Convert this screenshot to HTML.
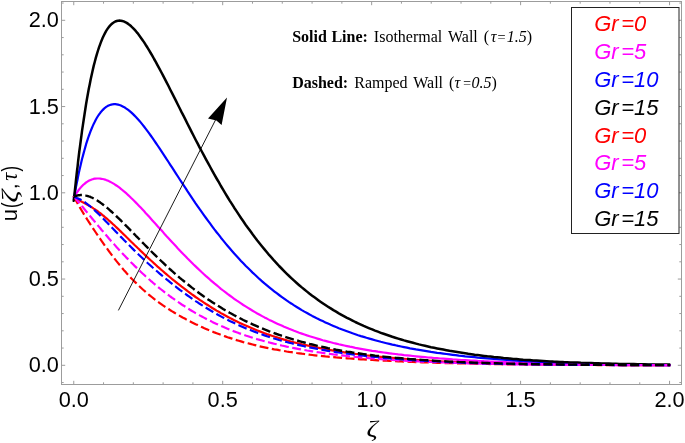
<!DOCTYPE html>
<html><head><meta charset="utf-8"><title>plot</title>
<style>
html,body{margin:0;padding:0;background:#fff;}
body{width:685px;height:443px;overflow:hidden;}
svg{display:block;will-change:transform;opacity:0.999;}
text{font-family:"Liberation Sans",sans-serif;}
.tk text{font-size:21.7px;fill:#000;}
.lg text{font-size:22px;font-style:italic;}
.an text{font-family:"Liberation Serif",serif;font-size:16px;fill:#000;}
</style></head><body>
<svg width="685" height="443" viewBox="0 0 685 443">
<rect width="685" height="443" fill="#fff"/>
<g id="curves" stroke-linecap="butt" stroke-linejoin="round">
<path d="M73.8,196.6 L73.8,196.7 L74.0,196.8 L74.2,197.0 L74.5,197.2 L74.8,197.5 L75.2,197.7 L75.6,198.0 L76.0,198.3 L76.5,198.6 L77.0,198.9 L77.6,199.3 L78.1,199.6 L78.7,200.0 L79.3,200.3 L80.0,200.7 L80.7,201.1 L81.4,201.5 L82.1,201.9 L82.9,202.3 L83.7,202.7 L84.5,203.1 L85.3,203.6 L86.1,204.0 L87.0,204.5 L87.9,205.0 L88.8,205.5 L89.8,206.1 L90.7,206.7 L91.7,207.3 L92.7,207.9 L93.7,208.6 L94.8,209.3 L95.8,210.0 L96.9,210.7 L98.0,211.5 L99.1,212.4 L100.3,213.2 L101.4,214.1 L102.6,215.1 L103.8,216.0 L105.0,217.1 L106.2,218.1 L107.5,219.2 L108.7,220.3 L110.0,221.4 L111.3,222.6 L112.6,223.8 L114.0,225.0 L115.3,226.3 L116.7,227.6 L118.1,228.9 L119.5,230.2 L120.9,231.6 L122.3,233.0 L123.7,234.4 L125.2,235.8 L126.7,237.3 L128.2,238.7 L129.7,240.2 L131.2,241.7 L132.8,243.2 L134.3,244.7 L135.9,246.2 L137.5,247.8 L139.1,249.3 L140.7,250.9 L142.3,252.4 L144.0,254.0 L145.6,255.6 L147.3,257.1 L149.0,258.7 L150.7,260.3 L152.4,261.8 L154.1,263.4 L155.9,265.0 L157.6,266.6 L159.4,268.1 L161.2,269.7 L163.0,271.3 L164.8,272.9 L166.6,274.4 L168.5,276.0 L170.3,277.5 L172.2,279.1 L174.1,280.6 L176.0,282.1 L177.9,283.7 L179.8,285.2 L181.7,286.7 L183.7,288.2 L185.7,289.7 L187.6,291.2 L189.6,292.6 L191.6,294.1 L193.6,295.5 L195.6,297.0 L197.7,298.4 L199.7,299.8 L201.8,301.2 L203.9,302.6 L206.0,304.0 L208.1,305.3 L210.2,306.6 L212.3,308.0 L214.4,309.3 L216.6,310.6 L218.8,311.8 L220.9,313.1 L223.1,314.3 L225.3,315.5 L227.5,316.7 L229.7,317.9 L232.0,319.1 L234.2,320.2 L236.5,321.3 L238.8,322.4 L241.0,323.5 L243.3,324.6 L245.6,325.6 L248.0,326.6 L250.3,327.6 L252.6,328.6 L255.0,329.6 L257.3,330.5 L259.7,331.4 L262.1,332.3 L264.5,333.2 L266.9,334.1 L269.3,334.9 L271.8,335.7 L274.2,336.5 L276.7,337.3 L279.1,338.1 L281.6,338.9 L284.1,339.6 L286.6,340.3 L289.1,341.0 L291.6,341.7 L294.1,342.4 L296.7,343.0 L299.2,343.6 L301.8,344.3 L304.4,344.9 L307.0,345.4 L309.6,346.0 L312.2,346.6 L314.8,347.1 L317.4,347.7 L320.1,348.2 L322.7,348.7 L325.4,349.2 L328.0,349.7 L330.7,350.1 L333.4,350.6 L336.1,351.0 L338.8,351.5 L341.5,351.9 L344.3,352.3 L347.0,352.7 L349.8,353.1 L352.5,353.5 L355.3,353.9 L358.1,354.2 L360.9,354.6 L363.7,354.9 L366.5,355.3 L369.4,355.6 L372.2,355.9 L375.0,356.2 L377.9,356.5 L380.8,356.8 L383.6,357.1 L386.5,357.4 L389.4,357.7 L392.3,357.9 L395.3,358.2 L398.2,358.4 L401.1,358.7 L404.1,358.9 L407.0,359.1 L410.0,359.4 L413.0,359.6 L416.0,359.8 L419.0,360.0 L422.0,360.2 L425.0,360.4 L428.0,360.6 L431.0,360.8 L434.1,361.0 L437.1,361.1 L440.2,361.3 L443.3,361.5 L446.4,361.6 L449.5,361.8 L452.6,361.9 L455.7,362.1 L458.8,362.2 L461.9,362.3 L465.1,362.4 L468.2,362.6 L471.4,362.7 L474.6,362.8 L477.7,362.9 L480.9,363.0 L484.1,363.1 L487.3,363.2 L490.5,363.3 L493.8,363.4 L497.0,363.5 L500.2,363.6 L503.5,363.7 L506.8,363.7 L510.0,363.8 L513.3,363.9 L516.6,364.0 L519.9,364.0 L523.2,364.1 L526.5,364.2 L529.9,364.2 L533.2,364.3 L536.6,364.3 L539.9,364.4 L543.3,364.4 L546.6,364.5 L550.0,364.5 L553.4,364.6 L556.8,364.6 L560.2,364.6 L563.6,364.7 L567.1,364.7 L570.5,364.7 L574.0,364.8 L577.4,364.8 L580.9,364.8 L584.3,364.9 L587.8,364.9 L591.3,364.9 L594.8,364.9 L598.3,364.9 L601.8,365.0 L605.4,365.0 L608.9,365.0 L612.4,365.0 L616.0,365.0 L619.5,365.1 L623.1,365.1 L626.7,365.1 L630.3,365.1 L633.9,365.1 L637.5,365.1 L641.1,365.1 L644.7,365.1 L648.3,365.2 L652.0,365.2 L655.6,365.2 L659.3,365.2 L662.9,365.2 L666.6,365.2 L670.3,365.2" fill="none" stroke="#f00" stroke-width="2.2"/>
<path d="M73.8,197.8 L73.8,197.6 L74.0,197.3 L74.2,196.9 L74.5,196.4 L74.8,195.9 L75.2,195.3 L75.6,194.6 L76.0,193.9 L76.5,193.1 L77.0,192.4 L77.6,191.6 L78.1,190.8 L78.7,190.0 L79.3,189.2 L80.0,188.4 L80.7,187.5 L81.4,186.8 L82.1,186.0 L82.9,185.2 L83.7,184.5 L84.5,183.8 L85.3,183.1 L86.1,182.5 L87.0,181.9 L87.9,181.3 L88.8,180.8 L89.8,180.3 L90.7,179.9 L91.7,179.5 L92.7,179.2 L93.7,178.9 L94.8,178.7 L95.8,178.6 L96.9,178.5 L98.0,178.5 L99.1,178.5 L100.3,178.6 L101.4,178.8 L102.6,179.0 L103.8,179.3 L105.0,179.6 L106.2,180.1 L107.5,180.5 L108.7,181.1 L110.0,181.7 L111.3,182.4 L112.6,183.1 L114.0,183.9 L115.3,184.8 L116.7,185.7 L118.1,186.7 L119.5,187.7 L120.9,188.8 L122.3,190.0 L123.7,191.2 L125.2,192.4 L126.7,193.7 L128.2,195.1 L129.7,196.5 L131.2,198.0 L132.8,199.5 L134.3,201.0 L135.9,202.6 L137.5,204.2 L139.1,205.9 L140.7,207.6 L142.3,209.3 L144.0,211.1 L145.6,212.9 L147.3,214.7 L149.0,216.6 L150.7,218.5 L152.4,220.4 L154.1,222.3 L155.9,224.2 L157.6,226.2 L159.4,228.2 L161.2,230.1 L163.0,232.1 L164.8,234.2 L166.6,236.2 L168.5,238.2 L170.3,240.2 L172.2,242.3 L174.1,244.3 L176.0,246.3 L177.9,248.4 L179.8,250.4 L181.7,252.4 L183.7,254.5 L185.7,256.5 L187.6,258.5 L189.6,260.5 L191.6,262.5 L193.6,264.5 L195.6,266.4 L197.7,268.4 L199.7,270.3 L201.8,272.3 L203.9,274.2 L206.0,276.1 L208.1,277.9 L210.2,279.8 L212.3,281.6 L214.4,283.4 L216.6,285.2 L218.8,287.0 L220.9,288.8 L223.1,290.5 L225.3,292.2 L227.5,293.9 L229.7,295.5 L232.0,297.2 L234.2,298.8 L236.5,300.4 L238.8,301.9 L241.0,303.4 L243.3,305.0 L245.6,306.4 L248.0,307.9 L250.3,309.3 L252.6,310.7 L255.0,312.1 L257.3,313.5 L259.7,314.8 L262.1,316.1 L264.5,317.4 L266.9,318.6 L269.3,319.9 L271.8,321.1 L274.2,322.2 L276.7,323.4 L279.1,324.5 L281.6,325.6 L284.1,326.7 L286.6,327.7 L289.1,328.8 L291.6,329.8 L294.1,330.8 L296.7,331.7 L299.2,332.7 L301.8,333.6 L304.4,334.5 L307.0,335.4 L309.6,336.2 L312.2,337.0 L314.8,337.8 L317.4,338.6 L320.1,339.4 L322.7,340.2 L325.4,340.9 L328.0,341.6 L330.7,342.3 L333.4,343.0 L336.1,343.6 L338.8,344.3 L341.5,344.9 L344.3,345.5 L347.0,346.1 L349.8,346.7 L352.5,347.2 L355.3,347.8 L358.1,348.3 L360.9,348.8 L363.7,349.3 L366.5,349.8 L369.4,350.3 L372.2,350.8 L375.0,351.2 L377.9,351.7 L380.8,352.1 L383.6,352.5 L386.5,352.9 L389.4,353.3 L392.3,353.7 L395.3,354.0 L398.2,354.4 L401.1,354.7 L404.1,355.1 L407.0,355.4 L410.0,355.7 L413.0,356.0 L416.0,356.3 L419.0,356.6 L422.0,356.9 L425.0,357.2 L428.0,357.5 L431.0,357.7 L434.1,358.0 L437.1,358.2 L440.2,358.5 L443.3,358.7 L446.4,358.9 L449.5,359.1 L452.6,359.4 L455.7,359.6 L458.8,359.8 L461.9,360.0 L465.1,360.1 L468.2,360.3 L471.4,360.5 L474.6,360.7 L477.7,360.9 L480.9,361.0 L484.1,361.2 L487.3,361.3 L490.5,361.5 L493.8,361.6 L497.0,361.8 L500.2,361.9 L503.5,362.0 L506.8,362.2 L510.0,362.3 L513.3,362.4 L516.6,362.5 L519.9,362.6 L523.2,362.8 L526.5,362.9 L529.9,363.0 L533.2,363.1 L536.6,363.2 L539.9,363.3 L543.3,363.3 L546.6,363.4 L550.0,363.5 L553.4,363.6 L556.8,363.7 L560.2,363.8 L563.6,363.8 L567.1,363.9 L570.5,364.0 L574.0,364.1 L577.4,364.1 L580.9,364.2 L584.3,364.2 L587.8,364.3 L591.3,364.4 L594.8,364.4 L598.3,364.5 L601.8,364.5 L605.4,364.6 L608.9,364.6 L612.4,364.7 L616.0,364.7 L619.5,364.8 L623.1,364.8 L626.7,364.8 L630.3,364.9 L633.9,364.9 L637.5,365.0 L641.1,365.0 L644.7,365.0 L648.3,365.1 L652.0,365.1 L655.6,365.1 L659.3,365.1 L662.9,365.2 L666.6,365.2 L670.3,365.2" fill="none" stroke="#f0f" stroke-width="2.2"/>
<path d="M73.8,199.6 L73.8,199.1 L74.0,198.1 L74.2,196.9 L74.5,195.3 L74.8,193.5 L75.2,191.5 L75.6,189.3 L76.0,186.9 L76.5,184.5 L77.0,181.9 L77.6,179.2 L78.1,176.4 L78.7,173.6 L79.3,170.7 L80.0,167.8 L80.7,164.8 L81.4,161.8 L82.1,158.8 L82.9,155.9 L83.7,152.9 L84.5,150.0 L85.3,147.1 L86.1,144.2 L87.0,141.4 L87.9,138.7 L88.8,136.0 L89.8,133.4 L90.7,130.9 L91.7,128.5 L92.7,126.1 L93.7,123.9 L94.8,121.8 L95.8,119.7 L96.9,117.8 L98.0,116.0 L99.1,114.4 L100.3,112.8 L101.4,111.4 L102.6,110.1 L103.8,108.9 L105.0,107.8 L106.2,106.9 L107.5,106.1 L108.7,105.5 L110.0,105.0 L111.3,104.6 L112.6,104.3 L114.0,104.2 L115.3,104.2 L116.7,104.4 L118.1,104.6 L119.5,105.0 L120.9,105.5 L122.3,106.2 L123.7,106.9 L125.2,107.8 L126.7,108.8 L128.2,109.9 L129.7,111.1 L131.2,112.4 L132.8,113.9 L134.3,115.4 L135.9,117.0 L137.5,118.7 L139.1,120.5 L140.7,122.4 L142.3,124.4 L144.0,126.5 L145.6,128.6 L147.3,130.9 L149.0,133.2 L150.7,135.5 L152.4,137.9 L154.1,140.4 L155.9,143.0 L157.6,145.5 L159.4,148.2 L161.2,150.9 L163.0,153.6 L164.8,156.4 L166.6,159.2 L168.5,162.0 L170.3,164.8 L172.2,167.7 L174.1,170.6 L176.0,173.6 L177.9,176.5 L179.8,179.5 L181.7,182.4 L183.7,185.4 L185.7,188.4 L187.6,191.4 L189.6,194.4 L191.6,197.4 L193.6,200.3 L195.6,203.3 L197.7,206.3 L199.7,209.2 L201.8,212.1 L203.9,215.1 L206.0,218.0 L208.1,220.8 L210.2,223.7 L212.3,226.6 L214.4,229.4 L216.6,232.2 L218.8,234.9 L220.9,237.7 L223.1,240.4 L225.3,243.1 L227.5,245.7 L229.7,248.3 L232.0,250.9 L234.2,253.5 L236.5,256.0 L238.8,258.5 L241.0,260.9 L243.3,263.3 L245.6,265.7 L248.0,268.0 L250.3,270.3 L252.6,272.6 L255.0,274.8 L257.3,277.0 L259.7,279.2 L262.1,281.3 L264.5,283.4 L266.9,285.4 L269.3,287.4 L271.8,289.4 L274.2,291.3 L276.7,293.2 L279.1,295.0 L281.6,296.8 L284.1,298.6 L286.6,300.4 L289.1,302.1 L291.6,303.7 L294.1,305.4 L296.7,307.0 L299.2,308.5 L301.8,310.1 L304.4,311.6 L307.0,313.0 L309.6,314.5 L312.2,315.9 L314.8,317.2 L317.4,318.6 L320.1,319.9 L322.7,321.1 L325.4,322.4 L328.0,323.6 L330.7,324.8 L333.4,325.9 L336.1,327.1 L338.8,328.2 L341.5,329.2 L344.3,330.3 L347.0,331.3 L349.8,332.3 L352.5,333.3 L355.3,334.2 L358.1,335.2 L360.9,336.1 L363.7,336.9 L366.5,337.8 L369.4,338.6 L372.2,339.4 L375.0,340.2 L377.9,341.0 L380.8,341.8 L383.6,342.5 L386.5,343.2 L389.4,343.9 L392.3,344.6 L395.3,345.2 L398.2,345.9 L401.1,346.5 L404.1,347.1 L407.0,347.7 L410.0,348.3 L413.0,348.8 L416.0,349.4 L419.0,349.9 L422.0,350.4 L425.0,350.9 L428.0,351.4 L431.0,351.9 L434.1,352.3 L437.1,352.8 L440.2,353.2 L443.3,353.6 L446.4,354.0 L449.5,354.4 L452.6,354.8 L455.7,355.2 L458.8,355.6 L461.9,355.9 L465.1,356.3 L468.2,356.6 L471.4,356.9 L474.6,357.2 L477.7,357.6 L480.9,357.8 L484.1,358.1 L487.3,358.4 L490.5,358.7 L493.8,359.0 L497.0,359.2 L500.2,359.5 L503.5,359.7 L506.8,359.9 L510.0,360.1 L513.3,360.4 L516.6,360.6 L519.9,360.8 L523.2,361.0 L526.5,361.2 L529.9,361.4 L533.2,361.5 L536.6,361.7 L539.9,361.9 L543.3,362.0 L546.6,362.2 L550.0,362.3 L553.4,362.5 L556.8,362.6 L560.2,362.8 L563.6,362.9 L567.1,363.0 L570.5,363.1 L574.0,363.3 L577.4,363.4 L580.9,363.5 L584.3,363.6 L587.8,363.7 L591.3,363.8 L594.8,363.9 L598.3,364.0 L601.8,364.0 L605.4,364.1 L608.9,364.2 L612.4,364.3 L616.0,364.3 L619.5,364.4 L623.1,364.5 L626.7,364.5 L630.3,364.6 L633.9,364.7 L637.5,364.7 L641.1,364.8 L644.7,364.8 L648.3,364.9 L652.0,364.9 L655.6,365.0 L659.3,365.0 L662.9,365.0 L666.6,365.1 L670.3,365.1" fill="none" stroke="#00f" stroke-width="2.2"/>
<path d="M73.8,201.4 L73.8,200.6 L74.0,198.9 L74.2,196.7 L74.5,194.1 L74.8,191.0 L75.2,187.5 L75.6,183.8 L76.0,179.8 L76.5,175.5 L77.0,171.0 L77.6,166.3 L78.1,161.5 L78.7,156.5 L79.3,151.5 L80.0,146.3 L80.7,141.0 L81.4,135.8 L82.1,130.4 L82.9,125.1 L83.7,119.8 L84.5,114.5 L85.3,109.2 L86.1,104.0 L87.0,98.8 L87.9,93.8 L88.8,88.8 L89.8,84.0 L90.7,79.3 L91.7,74.7 L92.7,70.2 L93.7,65.9 L94.8,61.8 L95.8,57.9 L96.9,54.1 L98.0,50.5 L99.1,47.1 L100.3,43.9 L101.4,40.9 L102.6,38.1 L103.8,35.5 L105.0,33.1 L106.2,30.9 L107.5,28.9 L108.7,27.2 L110.0,25.6 L111.3,24.3 L112.6,23.2 L114.0,22.3 L115.3,21.5 L116.7,21.0 L118.1,20.7 L119.5,20.6 L120.9,20.7 L122.3,21.0 L123.7,21.4 L125.2,22.1 L126.7,22.9 L128.2,23.9 L129.7,25.0 L131.2,26.3 L132.8,27.8 L134.3,29.4 L135.9,31.2 L137.5,33.1 L139.1,35.2 L140.7,37.4 L142.3,39.7 L144.0,42.1 L145.6,44.7 L147.3,47.3 L149.0,50.1 L150.7,53.0 L152.4,55.9 L154.1,59.0 L155.9,62.1 L157.6,65.3 L159.4,68.6 L161.2,72.0 L163.0,75.4 L164.8,78.9 L166.6,82.4 L168.5,86.0 L170.3,89.7 L172.2,93.4 L174.1,97.1 L176.0,100.9 L177.9,104.7 L179.8,108.5 L181.7,112.4 L183.7,116.2 L185.7,120.1 L187.6,124.0 L189.6,127.9 L191.6,131.9 L193.6,135.8 L195.6,139.7 L197.7,143.7 L199.7,147.6 L201.8,151.5 L203.9,155.4 L206.0,159.3 L208.1,163.2 L210.2,167.0 L212.3,170.9 L214.4,174.7 L216.6,178.5 L218.8,182.2 L220.9,186.0 L223.1,189.7 L225.3,193.3 L227.5,197.0 L229.7,200.6 L232.0,204.1 L234.2,207.7 L236.5,211.1 L238.8,214.6 L241.0,218.0 L243.3,221.3 L245.6,224.7 L248.0,227.9 L250.3,231.1 L252.6,234.3 L255.0,237.4 L257.3,240.5 L259.7,243.5 L262.1,246.5 L264.5,249.4 L266.9,252.3 L269.3,255.2 L271.8,257.9 L274.2,260.7 L276.7,263.3 L279.1,266.0 L281.6,268.5 L284.1,271.1 L286.6,273.6 L289.1,276.0 L291.6,278.4 L294.1,280.7 L296.7,283.0 L299.2,285.2 L301.8,287.4 L304.4,289.5 L307.0,291.6 L309.6,293.7 L312.2,295.7 L314.8,297.6 L317.4,299.5 L320.1,301.4 L322.7,303.2 L325.4,305.0 L328.0,306.7 L330.7,308.4 L333.4,310.1 L336.1,311.7 L338.8,313.3 L341.5,314.8 L344.3,316.3 L347.0,317.8 L349.8,319.2 L352.5,320.6 L355.3,322.0 L358.1,323.3 L360.9,324.6 L363.7,325.9 L366.5,327.1 L369.4,328.3 L372.2,329.4 L375.0,330.6 L377.9,331.7 L380.8,332.8 L383.6,333.8 L386.5,334.8 L389.4,335.8 L392.3,336.8 L395.3,337.7 L398.2,338.6 L401.1,339.5 L404.1,340.4 L407.0,341.2 L410.0,342.0 L413.0,342.8 L416.0,343.6 L419.0,344.4 L422.0,345.1 L425.0,345.8 L428.0,346.5 L431.0,347.2 L434.1,347.8 L437.1,348.4 L440.2,349.0 L443.3,349.6 L446.4,350.2 L449.5,350.8 L452.6,351.3 L455.7,351.8 L458.8,352.3 L461.9,352.8 L465.1,353.3 L468.2,353.8 L471.4,354.2 L474.6,354.7 L477.7,355.1 L480.9,355.5 L484.1,355.9 L487.3,356.3 L490.5,356.6 L493.8,357.0 L497.0,357.3 L500.2,357.6 L503.5,358.0 L506.8,358.3 L510.0,358.6 L513.3,358.9 L516.6,359.1 L519.9,359.4 L523.2,359.7 L526.5,359.9 L529.9,360.1 L533.2,360.4 L536.6,360.6 L539.9,360.8 L543.3,361.0 L546.6,361.2 L550.0,361.4 L553.4,361.6 L556.8,361.7 L560.2,361.9 L563.6,362.1 L567.1,362.2 L570.5,362.4 L574.0,362.5 L577.4,362.6 L580.9,362.8 L584.3,362.9 L587.8,363.0 L591.3,363.1 L594.8,363.2 L598.3,363.3 L601.8,363.4 L605.4,363.5 L608.9,363.6 L612.4,363.7 L616.0,363.8 L619.5,363.9 L623.1,363.9 L626.7,364.0 L630.3,364.1 L633.9,364.1 L637.5,364.2 L641.1,364.3 L644.7,364.3 L648.3,364.4 L652.0,364.4 L655.6,364.5 L659.3,364.5 L662.9,364.6 L666.6,364.6 L670.3,364.6" fill="none" stroke="#000" stroke-width="2.5"/>
<path d="M73.8,196.1 L73.8,196.3 L74.0,196.6 L74.2,197.1 L74.5,197.6 L74.8,198.3 L75.2,199.0 L75.6,199.7 L76.0,200.6 L76.5,201.5 L77.0,202.4 L77.6,203.4 L78.1,204.4 L78.7,205.5 L79.3,206.6 L80.0,207.7 L80.7,208.8 L81.4,210.0 L82.1,211.2 L82.9,212.5 L83.7,213.8 L84.5,215.1 L85.3,216.4 L86.1,217.7 L87.0,219.1 L87.9,220.5 L88.8,221.9 L89.8,223.4 L90.7,224.8 L91.7,226.3 L92.7,227.9 L93.7,229.4 L94.8,231.0 L95.8,232.5 L96.9,234.1 L98.0,235.7 L99.1,237.4 L100.3,239.0 L101.4,240.7 L102.6,242.4 L103.8,244.1 L105.0,245.8 L106.2,247.5 L107.5,249.2 L108.7,250.9 L110.0,252.7 L111.3,254.4 L112.6,256.1 L114.0,257.9 L115.3,259.6 L116.7,261.4 L118.1,263.1 L119.5,264.8 L120.9,266.5 L122.3,268.2 L123.7,269.9 L125.2,271.6 L126.7,273.3 L128.2,274.9 L129.7,276.5 L131.2,278.2 L132.8,279.8 L134.3,281.4 L135.9,282.9 L137.5,284.5 L139.1,286.0 L140.7,287.5 L142.3,289.0 L144.0,290.5 L145.6,291.9 L147.3,293.4 L149.0,294.8 L150.7,296.2 L152.4,297.5 L154.1,298.9 L155.9,300.2 L157.6,301.5 L159.4,302.8 L161.2,304.1 L163.0,305.4 L164.8,306.6 L166.6,307.8 L168.5,309.0 L170.3,310.2 L172.2,311.4 L174.1,312.5 L176.0,313.7 L177.9,314.8 L179.8,315.9 L181.7,317.0 L183.7,318.1 L185.7,319.1 L187.6,320.2 L189.6,321.2 L191.6,322.2 L193.6,323.2 L195.6,324.2 L197.7,325.1 L199.7,326.1 L201.8,327.0 L203.9,328.0 L206.0,328.9 L208.1,329.8 L210.2,330.6 L212.3,331.5 L214.4,332.4 L216.6,333.2 L218.8,334.0 L220.9,334.8 L223.1,335.6 L225.3,336.4 L227.5,337.2 L229.7,337.9 L232.0,338.6 L234.2,339.4 L236.5,340.1 L238.8,340.7 L241.0,341.4 L243.3,342.1 L245.6,342.7 L248.0,343.3 L250.3,343.9 L252.6,344.5 L255.0,345.1 L257.3,345.7 L259.7,346.3 L262.1,346.8 L264.5,347.3 L266.9,347.8 L269.3,348.3 L271.8,348.8 L274.2,349.3 L276.7,349.7 L279.1,350.2 L281.6,350.6 L284.1,351.0 L286.6,351.5 L289.1,351.9 L291.6,352.2 L294.1,352.6 L296.7,353.0 L299.2,353.3 L301.8,353.7 L304.4,354.0 L307.0,354.3 L309.6,354.7 L312.2,355.0 L314.8,355.3 L317.4,355.6 L320.1,355.8 L322.7,356.1 L325.4,356.4 L328.0,356.6 L330.7,356.9 L333.4,357.1 L336.1,357.4 L338.8,357.6 L341.5,357.8 L344.3,358.1 L347.0,358.3 L349.8,358.5 L352.5,358.7 L355.3,358.9 L358.1,359.1 L360.9,359.3 L363.7,359.4 L366.5,359.6 L369.4,359.8 L372.2,360.0 L375.0,360.1 L377.9,360.3 L380.8,360.4 L383.6,360.6 L386.5,360.7 L389.4,360.9 L392.3,361.0 L395.3,361.2 L398.2,361.3 L401.1,361.4 L404.1,361.6 L407.0,361.7 L410.0,361.8 L413.0,361.9 L416.0,362.1 L419.0,362.2 L422.0,362.3 L425.0,362.4 L428.0,362.5 L431.0,362.6 L434.1,362.7 L437.1,362.8 L440.2,362.9 L443.3,363.0 L446.4,363.1 L449.5,363.1 L452.6,363.2 L455.7,363.3 L458.8,363.4 L461.9,363.5 L465.1,363.5 L468.2,363.6 L471.4,363.7 L474.6,363.7 L477.7,363.8 L480.9,363.9 L484.1,363.9 L487.3,364.0 L490.5,364.1 L493.8,364.1 L497.0,364.2 L500.2,364.2 L503.5,364.3 L506.8,364.3 L510.0,364.4 L513.3,364.4 L516.6,364.4 L519.9,364.5 L523.2,364.5 L526.5,364.6 L529.9,364.6 L533.2,364.6 L536.6,364.7 L539.9,364.7 L543.3,364.7 L546.6,364.8 L550.0,364.8 L553.4,364.8 L556.8,364.8 L560.2,364.9 L563.6,364.9 L567.1,364.9 L570.5,364.9 L574.0,364.9 L577.4,365.0 L580.9,365.0 L584.3,365.0 L587.8,365.0 L591.3,365.0 L594.8,365.0 L598.3,365.1 L601.8,365.1 L605.4,365.1 L608.9,365.1 L612.4,365.1 L616.0,365.1 L619.5,365.1 L623.1,365.1 L626.7,365.2 L630.3,365.2 L633.9,365.2 L637.5,365.2 L641.1,365.2 L644.7,365.2 L648.3,365.2 L652.0,365.2 L655.6,365.2 L659.3,365.2 L662.9,365.2 L666.6,365.2 L670.3,365.2" fill="none" stroke="#f00" stroke-width="2.2" stroke-dasharray="8.9 3.5" stroke-dashoffset="0"/>
<path d="M73.8,196.5 L73.8,196.6 L74.0,196.8 L74.2,197.0 L74.5,197.4 L74.8,197.7 L75.2,198.1 L75.6,198.6 L76.0,199.1 L76.5,199.7 L77.0,200.3 L77.6,200.9 L78.1,201.6 L78.7,202.3 L79.3,203.0 L80.0,203.8 L80.7,204.6 L81.4,205.4 L82.1,206.3 L82.9,207.2 L83.7,208.2 L84.5,209.2 L85.3,210.2 L86.1,211.2 L87.0,212.3 L87.9,213.3 L88.8,214.5 L89.8,215.6 L90.7,216.8 L91.7,218.0 L92.7,219.2 L93.7,220.4 L94.8,221.7 L95.8,223.0 L96.9,224.3 L98.0,225.6 L99.1,226.9 L100.3,228.3 L101.4,229.7 L102.6,231.0 L103.8,232.5 L105.0,233.9 L106.2,235.3 L107.5,236.8 L108.7,238.2 L110.0,239.7 L111.3,241.2 L112.6,242.6 L114.0,244.1 L115.3,245.6 L116.7,247.2 L118.1,248.7 L119.5,250.2 L120.9,251.7 L122.3,253.3 L123.7,254.8 L125.2,256.3 L126.7,257.9 L128.2,259.4 L129.7,261.0 L131.2,262.5 L132.8,264.0 L134.3,265.6 L135.9,267.1 L137.5,268.6 L139.1,270.2 L140.7,271.7 L142.3,273.2 L144.0,274.7 L145.6,276.3 L147.3,277.8 L149.0,279.3 L150.7,280.8 L152.4,282.2 L154.1,283.7 L155.9,285.2 L157.6,286.6 L159.4,288.1 L161.2,289.5 L163.0,290.9 L164.8,292.3 L166.6,293.7 L168.5,295.1 L170.3,296.5 L172.2,297.9 L174.1,299.2 L176.0,300.6 L177.9,301.9 L179.8,303.2 L181.7,304.5 L183.7,305.7 L185.7,307.0 L187.6,308.2 L189.6,309.5 L191.6,310.7 L193.6,311.9 L195.6,313.1 L197.7,314.2 L199.7,315.4 L201.8,316.5 L203.9,317.6 L206.0,318.7 L208.1,319.8 L210.2,320.8 L212.3,321.9 L214.4,322.9 L216.6,323.9 L218.8,324.9 L220.9,325.9 L223.1,326.8 L225.3,327.8 L227.5,328.7 L229.7,329.6 L232.0,330.5 L234.2,331.4 L236.5,332.2 L238.8,333.1 L241.0,333.9 L243.3,334.7 L245.6,335.5 L248.0,336.2 L250.3,337.0 L252.6,337.7 L255.0,338.5 L257.3,339.2 L259.7,339.9 L262.1,340.5 L264.5,341.2 L266.9,341.9 L269.3,342.5 L271.8,343.1 L274.2,343.7 L276.7,344.3 L279.1,344.9 L281.6,345.5 L284.1,346.0 L286.6,346.6 L289.1,347.1 L291.6,347.6 L294.1,348.1 L296.7,348.6 L299.2,349.1 L301.8,349.6 L304.4,350.0 L307.0,350.5 L309.6,350.9 L312.2,351.3 L314.8,351.7 L317.4,352.2 L320.1,352.5 L322.7,352.9 L325.4,353.3 L328.0,353.7 L330.7,354.0 L333.4,354.4 L336.1,354.7 L338.8,355.1 L341.5,355.4 L344.3,355.7 L347.0,356.0 L349.8,356.3 L352.5,356.6 L355.3,356.9 L358.1,357.1 L360.9,357.4 L363.7,357.7 L366.5,357.9 L369.4,358.2 L372.2,358.4 L375.0,358.6 L377.9,358.9 L380.8,359.1 L383.6,359.3 L386.5,359.5 L389.4,359.7 L392.3,359.9 L395.3,360.1 L398.2,360.3 L401.1,360.5 L404.1,360.6 L407.0,360.8 L410.0,361.0 L413.0,361.1 L416.0,361.3 L419.0,361.4 L422.0,361.6 L425.0,361.7 L428.0,361.9 L431.0,362.0 L434.1,362.1 L437.1,362.2 L440.2,362.4 L443.3,362.5 L446.4,362.6 L449.5,362.7 L452.6,362.8 L455.7,362.9 L458.8,363.0 L461.9,363.1 L465.1,363.2 L468.2,363.3 L471.4,363.4 L474.6,363.4 L477.7,363.5 L480.9,363.6 L484.1,363.7 L487.3,363.7 L490.5,363.8 L493.8,363.9 L497.0,363.9 L500.2,364.0 L503.5,364.1 L506.8,364.1 L510.0,364.2 L513.3,364.2 L516.6,364.3 L519.9,364.3 L523.2,364.4 L526.5,364.4 L529.9,364.4 L533.2,364.5 L536.6,364.5 L539.9,364.6 L543.3,364.6 L546.6,364.6 L550.0,364.7 L553.4,364.7 L556.8,364.7 L560.2,364.8 L563.6,364.8 L567.1,364.8 L570.5,364.8 L574.0,364.9 L577.4,364.9 L580.9,364.9 L584.3,364.9 L587.8,364.9 L591.3,365.0 L594.8,365.0 L598.3,365.0 L601.8,365.0 L605.4,365.0 L608.9,365.0 L612.4,365.1 L616.0,365.1 L619.5,365.1 L623.1,365.1 L626.7,365.1 L630.3,365.1 L633.9,365.1 L637.5,365.1 L641.1,365.1 L644.7,365.2 L648.3,365.2 L652.0,365.2 L655.6,365.2 L659.3,365.2 L662.9,365.2 L666.6,365.2 L670.3,365.2" fill="none" stroke="#f0f" stroke-width="2.2" stroke-dasharray="8.9 3.5" stroke-dashoffset="0"/>
<path d="M73.8,196.9 L73.8,196.9 L74.0,196.9 L74.2,197.0 L74.5,197.1 L74.8,197.2 L75.2,197.3 L75.6,197.4 L76.0,197.6 L76.5,197.8 L77.0,198.0 L77.6,198.2 L78.1,198.4 L78.7,198.7 L79.3,199.0 L80.0,199.3 L80.7,199.7 L81.4,200.1 L82.1,200.5 L82.9,201.0 L83.7,201.5 L84.5,202.0 L85.3,202.6 L86.1,203.2 L87.0,203.8 L87.9,204.5 L88.8,205.3 L89.8,206.0 L90.7,206.8 L91.7,207.6 L92.7,208.5 L93.7,209.4 L94.8,210.4 L95.8,211.4 L96.9,212.4 L98.0,213.4 L99.1,214.5 L100.3,215.6 L101.4,216.8 L102.6,218.0 L103.8,219.2 L105.0,220.4 L106.2,221.7 L107.5,222.9 L108.7,224.2 L110.0,225.6 L111.3,226.9 L112.6,228.3 L114.0,229.7 L115.3,231.1 L116.7,232.5 L118.1,233.9 L119.5,235.4 L120.9,236.9 L122.3,238.3 L123.7,239.8 L125.2,241.3 L126.7,242.8 L128.2,244.3 L129.7,245.8 L131.2,247.3 L132.8,248.9 L134.3,250.4 L135.9,251.9 L137.5,253.4 L139.1,255.0 L140.7,256.5 L142.3,258.0 L144.0,259.6 L145.6,261.1 L147.3,262.7 L149.0,264.2 L150.7,265.7 L152.4,267.3 L154.1,268.8 L155.9,270.3 L157.6,271.8 L159.4,273.4 L161.2,274.9 L163.0,276.4 L164.8,277.9 L166.6,279.4 L168.5,280.9 L170.3,282.4 L172.2,283.9 L174.1,285.4 L176.0,286.8 L177.9,288.3 L179.8,289.8 L181.7,291.2 L183.7,292.7 L185.7,294.1 L187.6,295.5 L189.6,296.9 L191.6,298.3 L193.6,299.7 L195.6,301.1 L197.7,302.4 L199.7,303.8 L201.8,305.1 L203.9,306.4 L206.0,307.7 L208.1,309.0 L210.2,310.3 L212.3,311.5 L214.4,312.8 L216.6,314.0 L218.8,315.2 L220.9,316.4 L223.1,317.6 L225.3,318.7 L227.5,319.8 L229.7,321.0 L232.0,322.1 L234.2,323.1 L236.5,324.2 L238.8,325.2 L241.0,326.2 L243.3,327.2 L245.6,328.2 L248.0,329.2 L250.3,330.1 L252.6,331.0 L255.0,331.9 L257.3,332.8 L259.7,333.7 L262.1,334.5 L264.5,335.4 L266.9,336.2 L269.3,337.0 L271.8,337.7 L274.2,338.5 L276.7,339.2 L279.1,340.0 L281.6,340.7 L284.1,341.3 L286.6,342.0 L289.1,342.7 L291.6,343.3 L294.1,343.9 L296.7,344.5 L299.2,345.1 L301.8,345.7 L304.4,346.3 L307.0,346.8 L309.6,347.4 L312.2,347.9 L314.8,348.4 L317.4,348.9 L320.1,349.4 L322.7,349.9 L325.4,350.3 L328.0,350.8 L330.7,351.2 L333.4,351.7 L336.1,352.1 L338.8,352.5 L341.5,352.9 L344.3,353.3 L347.0,353.7 L349.8,354.0 L352.5,354.4 L355.3,354.7 L358.1,355.1 L360.9,355.4 L363.7,355.7 L366.5,356.1 L369.4,356.4 L372.2,356.7 L375.0,357.0 L377.9,357.2 L380.8,357.5 L383.6,357.8 L386.5,358.1 L389.4,358.3 L392.3,358.6 L395.3,358.8 L398.2,359.0 L401.1,359.3 L404.1,359.5 L407.0,359.7 L410.0,359.9 L413.0,360.1 L416.0,360.3 L419.0,360.5 L422.0,360.7 L425.0,360.9 L428.0,361.0 L431.0,361.2 L434.1,361.4 L437.1,361.5 L440.2,361.7 L443.3,361.8 L446.4,362.0 L449.5,362.1 L452.6,362.3 L455.7,362.4 L458.8,362.5 L461.9,362.6 L465.1,362.8 L468.2,362.9 L471.4,363.0 L474.6,363.1 L477.7,363.2 L480.9,363.3 L484.1,363.4 L487.3,363.5 L490.5,363.5 L493.8,363.6 L497.0,363.7 L500.2,363.8 L503.5,363.9 L506.8,363.9 L510.0,364.0 L513.3,364.1 L516.6,364.1 L519.9,364.2 L523.2,364.2 L526.5,364.3 L529.9,364.3 L533.2,364.4 L536.6,364.4 L539.9,364.5 L543.3,364.5 L546.6,364.6 L550.0,364.6 L553.4,364.6 L556.8,364.7 L560.2,364.7 L563.6,364.7 L567.1,364.8 L570.5,364.8 L574.0,364.8 L577.4,364.9 L580.9,364.9 L584.3,364.9 L587.8,364.9 L591.3,365.0 L594.8,365.0 L598.3,365.0 L601.8,365.0 L605.4,365.0 L608.9,365.0 L612.4,365.1 L616.0,365.1 L619.5,365.1 L623.1,365.1 L626.7,365.1 L630.3,365.1 L633.9,365.1 L637.5,365.1 L641.1,365.2 L644.7,365.2 L648.3,365.2 L652.0,365.2 L655.6,365.2 L659.3,365.2 L662.9,365.2 L666.6,365.2 L670.3,365.2" fill="none" stroke="#00f" stroke-width="2.2" stroke-dasharray="8.9 3.5" stroke-dashoffset="0.5"/>
<path d="M73.8,196.8 L73.8,196.8 L74.0,196.7 L74.2,196.6 L74.5,196.5 L74.8,196.3 L75.2,196.2 L75.6,196.0 L76.0,195.9 L76.5,195.7 L77.0,195.6 L77.6,195.5 L78.1,195.3 L78.7,195.2 L79.3,195.2 L80.0,195.1 L80.7,195.0 L81.4,195.0 L82.1,195.0 L82.9,195.1 L83.7,195.2 L84.5,195.3 L85.3,195.4 L86.1,195.6 L87.0,195.8 L87.9,196.1 L88.8,196.4 L89.8,196.7 L90.7,197.1 L91.7,197.5 L92.7,198.0 L93.7,198.5 L94.8,199.1 L95.8,199.7 L96.9,200.3 L98.0,201.0 L99.1,201.8 L100.3,202.6 L101.4,203.4 L102.6,204.3 L103.8,205.2 L105.0,206.1 L106.2,207.1 L107.5,208.2 L108.7,209.2 L110.0,210.3 L111.3,211.5 L112.6,212.7 L114.0,213.9 L115.3,215.2 L116.7,216.5 L118.1,217.8 L119.5,219.2 L120.9,220.5 L122.3,222.0 L123.7,223.4 L125.2,224.9 L126.7,226.4 L128.2,227.9 L129.7,229.4 L131.2,231.0 L132.8,232.5 L134.3,234.1 L135.9,235.8 L137.5,237.4 L139.1,239.0 L140.7,240.7 L142.3,242.3 L144.0,244.0 L145.6,245.7 L147.3,247.4 L149.0,249.1 L150.7,250.8 L152.4,252.5 L154.1,254.2 L155.9,255.9 L157.6,257.6 L159.4,259.3 L161.2,261.0 L163.0,262.7 L164.8,264.4 L166.6,266.1 L168.5,267.8 L170.3,269.5 L172.2,271.2 L174.1,272.8 L176.0,274.5 L177.9,276.1 L179.8,277.8 L181.7,279.4 L183.7,281.0 L185.7,282.6 L187.6,284.2 L189.6,285.8 L191.6,287.4 L193.6,288.9 L195.6,290.5 L197.7,292.0 L199.7,293.5 L201.8,295.0 L203.9,296.5 L206.0,297.9 L208.1,299.4 L210.2,300.8 L212.3,302.2 L214.4,303.6 L216.6,305.0 L218.8,306.3 L220.9,307.6 L223.1,309.0 L225.3,310.3 L227.5,311.5 L229.7,312.8 L232.0,314.0 L234.2,315.3 L236.5,316.5 L238.8,317.6 L241.0,318.8 L243.3,320.0 L245.6,321.1 L248.0,322.2 L250.3,323.3 L252.6,324.3 L255.0,325.4 L257.3,326.4 L259.7,327.4 L262.1,328.4 L264.5,329.4 L266.9,330.3 L269.3,331.3 L271.8,332.2 L274.2,333.1 L276.7,334.0 L279.1,334.8 L281.6,335.7 L284.1,336.5 L286.6,337.3 L289.1,338.1 L291.6,338.9 L294.1,339.7 L296.7,340.4 L299.2,341.1 L301.8,341.8 L304.4,342.5 L307.0,343.2 L309.6,343.9 L312.2,344.5 L314.8,345.1 L317.4,345.8 L320.1,346.4 L322.7,346.9 L325.4,347.5 L328.0,348.1 L330.7,348.6 L333.4,349.1 L336.1,349.7 L338.8,350.2 L341.5,350.7 L344.3,351.1 L347.0,351.6 L349.8,352.0 L352.5,352.5 L355.3,352.9 L358.1,353.3 L360.9,353.7 L363.7,354.1 L366.5,354.5 L369.4,354.9 L372.2,355.2 L375.0,355.6 L377.9,355.9 L380.8,356.3 L383.6,356.6 L386.5,356.9 L389.4,357.2 L392.3,357.5 L395.3,357.8 L398.2,358.0 L401.1,358.3 L404.1,358.6 L407.0,358.8 L410.0,359.1 L413.0,359.3 L416.0,359.5 L419.0,359.7 L422.0,359.9 L425.0,360.1 L428.0,360.3 L431.0,360.5 L434.1,360.7 L437.1,360.9 L440.2,361.1 L443.3,361.2 L446.4,361.4 L449.5,361.6 L452.6,361.7 L455.7,361.8 L458.8,362.0 L461.9,362.1 L465.1,362.3 L468.2,362.4 L471.4,362.5 L474.6,362.6 L477.7,362.7 L480.9,362.8 L484.1,362.9 L487.3,363.0 L490.5,363.1 L493.8,363.2 L497.0,363.3 L500.2,363.4 L503.5,363.5 L506.8,363.6 L510.0,363.6 L513.3,363.7 L516.6,363.8 L519.9,363.8 L523.2,363.9 L526.5,364.0 L529.9,364.0 L533.2,364.1 L536.6,364.1 L539.9,364.2 L543.3,364.2 L546.6,364.3 L550.0,364.3 L553.4,364.4 L556.8,364.4 L560.2,364.5 L563.6,364.5 L567.1,364.5 L570.5,364.6 L574.0,364.6 L577.4,364.6 L580.9,364.7 L584.3,364.7 L587.8,364.7 L591.3,364.8 L594.8,364.8 L598.3,364.8 L601.8,364.8 L605.4,364.9 L608.9,364.9 L612.4,364.9 L616.0,364.9 L619.5,364.9 L623.1,365.0 L626.7,365.0 L630.3,365.0 L633.9,365.0 L637.5,365.0 L641.1,365.0 L644.7,365.1 L648.3,365.1 L652.0,365.1 L655.6,365.1 L659.3,365.1 L662.9,365.1 L666.6,365.1 L670.3,365.1" fill="none" stroke="#000" stroke-width="2.4" stroke-dasharray="8.9 3.5" stroke-dashoffset="0.5"/>
</g>
<path d="M73.7,197 L73.5,202" stroke="#000" stroke-width="1.3" fill="none"/>
<g id="arrow">
<line x1="118.4" y1="310.4" x2="216" y2="119" stroke="#000" stroke-width="0.9"/>
<path d="M227,97.4 L208,118.4 L216.4,120.5 L221.6,125 Z" fill="#000"/>
</g>
<g id="frame">
<rect x="61.5" y="1.5" width="620.0" height="383.0" fill="none" stroke="#9c9c9c" stroke-width="1"/>
<path d="M73.75,384.5 v-3.7 M73.75,1.5 v3.7 M103.54,384.5 v-2.2 M103.54,1.5 v2.2 M133.33,384.5 v-2.2 M133.33,1.5 v2.2 M163.12,384.5 v-2.2 M163.12,1.5 v2.2 M192.91,384.5 v-2.2 M192.91,1.5 v2.2 M222.70,384.5 v-3.7 M222.70,1.5 v3.7 M252.49,384.5 v-2.2 M252.49,1.5 v2.2 M282.28,384.5 v-2.2 M282.28,1.5 v2.2 M312.07,384.5 v-2.2 M312.07,1.5 v2.2 M341.86,384.5 v-2.2 M341.86,1.5 v2.2 M371.65,384.5 v-3.7 M371.65,1.5 v3.7 M401.44,384.5 v-2.2 M401.44,1.5 v2.2 M431.23,384.5 v-2.2 M431.23,1.5 v2.2 M461.02,384.5 v-2.2 M461.02,1.5 v2.2 M490.81,384.5 v-2.2 M490.81,1.5 v2.2 M520.60,384.5 v-3.7 M520.60,1.5 v3.7 M550.39,384.5 v-2.2 M550.39,1.5 v2.2 M580.18,384.5 v-2.2 M580.18,1.5 v2.2 M609.97,384.5 v-2.2 M609.97,1.5 v2.2 M639.76,384.5 v-2.2 M639.76,1.5 v2.2 M669.55,384.5 v-3.7 M669.55,1.5 v3.7 M61.5,382.55 h2.2 M681.5,382.55 h-2.2 M61.5,365.30 h3.7 M681.5,365.30 h-3.7 M61.5,348.05 h2.2 M681.5,348.05 h-2.2 M61.5,330.80 h2.2 M681.5,330.80 h-2.2 M61.5,313.55 h2.2 M681.5,313.55 h-2.2 M61.5,296.30 h2.2 M681.5,296.30 h-2.2 M61.5,279.05 h3.7 M681.5,279.05 h-3.7 M61.5,261.80 h2.2 M681.5,261.80 h-2.2 M61.5,244.55 h2.2 M681.5,244.55 h-2.2 M61.5,227.30 h2.2 M681.5,227.30 h-2.2 M61.5,210.05 h2.2 M681.5,210.05 h-2.2 M61.5,192.80 h3.7 M681.5,192.80 h-3.7 M61.5,175.55 h2.2 M681.5,175.55 h-2.2 M61.5,158.30 h2.2 M681.5,158.30 h-2.2 M61.5,141.05 h2.2 M681.5,141.05 h-2.2 M61.5,123.80 h2.2 M681.5,123.80 h-2.2 M61.5,106.55 h3.7 M681.5,106.55 h-3.7 M61.5,89.30 h2.2 M681.5,89.30 h-2.2 M61.5,72.05 h2.2 M681.5,72.05 h-2.2 M61.5,54.80 h2.2 M681.5,54.80 h-2.2 M61.5,37.55 h2.2 M681.5,37.55 h-2.2 M61.5,20.30 h3.7 M681.5,20.30 h-3.7 M61.5,3.05 h2.2 M681.5,3.05 h-2.2" stroke="#9c9c9c" stroke-width="1" fill="none"/>
</g>
<g class="tk"><text x="73.8" y="406.7" text-anchor="middle">0.0</text><text x="222.7" y="406.7" text-anchor="middle">0.5</text><text x="371.6" y="406.7" text-anchor="middle">1.0</text><text x="520.6" y="406.7" text-anchor="middle">1.5</text><text x="669.5" y="406.7" text-anchor="middle">2.0</text><text x="58.9" y="372.3" text-anchor="end">0.0</text><text x="58.9" y="286.1" text-anchor="end">0.5</text><text x="58.9" y="199.8" text-anchor="end">1.0</text><text x="58.9" y="113.6" text-anchor="end">1.5</text><text x="58.9" y="27.3" text-anchor="end">2.0</text></g>
<g transform="translate(16.7,221) rotate(-90)" fill="#000"><text transform="translate(-0.2,0.4) scale(1,1)" style="font-family:'Liberation Sans';font-size:22px;">u</text><text transform="translate(12.9,1.2) scale(0.72,1)" style="font-family:'Liberation Sans';font-size:23px;">(</text><text transform="translate(18.3,0.3) scale(1.3,1)" style="font-family:'Liberation Serif';font-size:24px;font-style:italic;">ζ</text><text transform="translate(31.8,0) scale(1,1)" style="font-family:'Liberation Sans';font-size:21px;">,</text><text transform="translate(40.3,0.4) scale(1,1)" style="font-family:'Liberation Serif';font-size:22.5px;font-style:italic;">τ</text><text transform="translate(49.4,1.2) scale(0.72,1)" style="font-family:'Liberation Sans';font-size:23px;">)</text></g>
<text transform="translate(366.6,436.2) scale(1.16,1)" style="font-family:'Liberation Serif',serif;font-style:italic;font-size:24px">ζ</text>
<g class="an">
<text x="292.2" y="42.2" word-spacing="2"><tspan font-weight="bold" word-spacing="0.5">Solid Line:</tspan> Isothermal Wall (<tspan font-style="italic" dx="1.6">τ</tspan><tspan font-style="italic" font-size="14.5">=</tspan><tspan font-style="italic" dx="0.6">1.5</tspan>)</text>
<text x="292.2" y="87.6" word-spacing="2"><tspan font-weight="bold">Dashed:</tspan> Ramped Wall (<tspan font-style="italic">τ</tspan><tspan font-style="italic" font-size="14" dx="2.2">=</tspan><tspan font-style="italic" dx="-0.3">0.5</tspan>)</text>
</g>
<g class="lg">
<rect x="571.5" y="7.5" width="107.5" height="226" fill="#fff" stroke="#222" stroke-width="1"/>
<text x="594.2" y="31.4" fill="#f00">Gr<tspan dx="2.6">=</tspan>0</text><text x="594.2" y="59.2" fill="#f0f">Gr<tspan dx="2.6">=</tspan>5</text><text x="594.2" y="87.0" fill="#00f">Gr<tspan dx="2.6">=</tspan>10</text><text x="594.2" y="114.8" fill="#000">Gr<tspan dx="2.6">=</tspan>15</text><text x="594.2" y="142.6" fill="#f00">Gr<tspan dx="2.6">=</tspan>0</text><text x="594.2" y="170.4" fill="#f0f">Gr<tspan dx="2.6">=</tspan>5</text><text x="594.2" y="198.2" fill="#00f">Gr<tspan dx="2.6">=</tspan>10</text><text x="594.2" y="226.0" fill="#000">Gr<tspan dx="2.6">=</tspan>15</text>
</g>
</svg>
</body></html>
